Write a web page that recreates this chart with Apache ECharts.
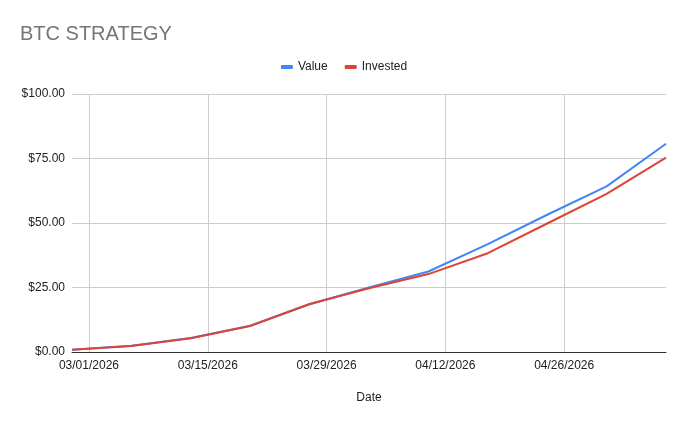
<!DOCTYPE html>
<html>
<head>
<meta charset="utf-8">
<script src="https://cdn.jsdelivr.net/npm/echarts@6/dist/echarts.min.js"></script>
<style>
  html, body { margin: 0; padding: 0; background: #fff; }
  #chart { width: 688px; height: 426px; }
</style>
</head>
<body>
<div id="chart"></div>
<script>
// weekly snapshots
const DATES = ['2026-02-27', '2026-03-06', '2026-03-13', '2026-03-20', '2026-03-27', '2026-04-03',
  '2026-04-10', '2026-04-17', '2026-04-24', '2026-05-01', '2026-05-08'];
const VALUE = [0.9, 2.4, 5.4, 10.2, 18.5, 25.0, 31.2, 41.8, 53.2, 64.2, 80.7];
const INVESTED = [0.9, 2.3, 5.3, 10.1, 18.6, 24.7, 30.2, 38.3, 49.8, 61.3, 75.3];
const X_TICKS = ['2026-03-01', '2026-03-15', '2026-03-29', '2026-04-12', '2026-04-26'];
const Y_TICKS = [0, 25, 50, 75, 100];

const DAY = 86400000;
const ORIGIN = Date.UTC(2026, 2, 1);

// days from 03/01/2026
function toDays(s) {
  const p = s.split('-');
  return (Date.UTC(+p[0], +p[1] - 1, +p[2]) - ORIGIN) / DAY;
}

function fmtDate(d) {
  const t = new Date(ORIGIN + Math.round(d) * DAY);
  const mm = String(t.getUTCMonth() + 1).padStart(2, '0');
  const dd = String(t.getUTCDate()).padStart(2, '0');
  return mm + '/' + dd + '/' + t.getUTCFullYear();
}

const xs = DATES.map(toDays);
const tickDays = X_TICKS.map(toDays);

const chart = echarts.init(document.getElementById('chart'));
const FONT = '"Liberation Sans", Arial, sans-serif';

let option = {
  animation: false,
  textStyle: { fontFamily: FONT },
  title: {
    text: 'BTC STRATEGY',
    left: 20,
    top: 24,
    padding: 0,
    textStyle: { fontSize: 20, fontWeight: 'normal', color: '#757575', fontFamily: FONT }
  },
  legend: {
    left: 'center',
    top: 61,
    padding: 0,
    itemWidth: 12,
    itemHeight: 4,
    itemGap: 17,
    icon: 'roundRect',
    textStyle: { fontSize: 12, color: '#222', fontFamily: FONT },
    data: ['Value', 'Invested']
  },
  grid: {
    left: 72,
    right: 22,
    top: 94,
    bottom: 74,
    containLabel: false
  },
  xAxis: {
    type: 'value',
    min: xs[0],
    max: xs[xs.length - 1],
    name: 'Date',
    nameLocation: 'middle',
    nameGap: 40,
    nameTextStyle: { fontSize: 12, color: '#222', fontFamily: FONT },
    axisLine: { show: true, lineStyle: { color: '#333', width: 1 } },
    axisTick: { show: false, customValues: tickDays },
    axisLabel: {
      customValues: tickDays,
      margin: 8,
      fontSize: 12,
      color: '#222',
      fontFamily: FONT,
      formatter: fmtDate
    },
    splitLine: { show: true, lineStyle: { color: '#cccccc', width: 1 } }
  },
  yAxis: {
    type: 'value',
    min: Y_TICKS[0],
    max: Y_TICKS[Y_TICKS.length - 1],
    interval: 25,
    axisLine: { show: false },
    axisTick: { show: false },
    axisLabel: {
      margin: 7,
      fontSize: 12,
      color: '#222',
      fontFamily: FONT,
      formatter: v => '$' + v.toFixed(2)
    },
    splitLine: { lineStyle: { color: '#cccccc', width: 1 } }
  },
  series: [{
      name: 'Value',
      type: 'line',
      showSymbol: false,
      color: '#4285F4',
      lineStyle: { width: 2 },
      data: xs.map((x, i) => [x, VALUE[i]])
    },
    {
      name: 'Invested',
      type: 'line',
      showSymbol: false,
      color: '#DB4437',
      lineStyle: { width: 2 },
      data: xs.map((x, i) => [x, INVESTED[i]])
    }
  ]
};

chart.setOption(option);
</script>
</body>
</html>
